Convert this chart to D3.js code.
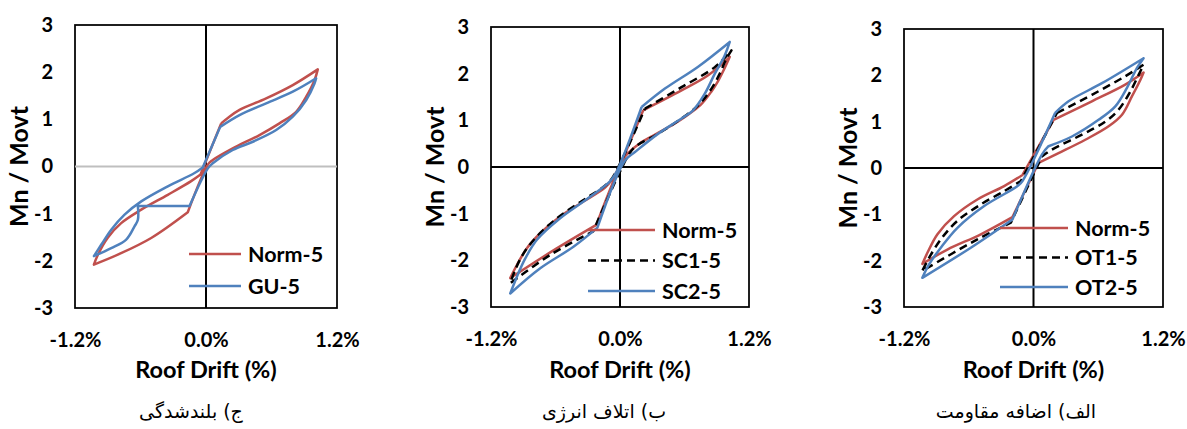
<!DOCTYPE html>
<html>
<head>
<meta charset="utf-8">
<script src="https://cdn.jsdelivr.net/npm/d3@7"></script>
<style>
  body { margin: 0; background: #fff; }
  svg text { font-family: Lato, "Open Sans", sans-serif; font-weight: 700; fill: #000; }
  svg text.caption { font-family: "DejaVu Sans", sans-serif; font-weight: 400; }
</style>
</head>
<body>
<svg id="chart" width="1187" height="429"></svg>
<script>
(function () {
    'use strict';

    var yTicks = [-3, -2, -1, 0, 1, 2, 3];
    var xTicks = [-1.2, 0, 1.2];
    var captions = ["ج) بلندشدگی", "ب) اتلاف انرژی", "الف) اضافه مقاومت"];

    // [roof drift %, Mn/Movt], traced round each loop
    var normGU = [[0.139, 0.915], [0.2, 1.03], [0.307, 1.2], [0.551, 1.445], [0.795, 1.727], [1.024, 2.06],
        [0.994, 1.83], [0.918, 1.48], [0.826, 1.16], [0.673, 0.915], [0.49, 0.667], [0.245, 0.385], [0.062, 0.138], [0.02, 0.05],
        [-0.167, -0.97], [-0.502, -1.515], [-0.808, -1.87], [-1.027, -2.08],
        [-0.99, -1.87], [-0.9, -1.51], [-0.777, -1.2], [-0.593, -0.915], [-0.35, -0.6], [-0.136, -0.31], [-0.05, -0.17], [0.139, 0.915]];
    var gu5 = [[0.13, 0.84], [0.307, 1.09], [0.551, 1.34], [0.795, 1.585], [1.009, 1.87],
        [0.994, 1.76], [0.918, 1.41], [0.795, 1.055], [0.643, 0.773], [0.429, 0.525], [0.245, 0.35], [0.062, 0.068], [0.017, -0.04],
        [-0.151, -0.84], [-0.624, -0.84], [-0.624, -1.13], [-0.655, -1.27], [-0.731, -1.55], [-0.868, -1.73], [-1.027, -1.9],
        [-0.96, -1.66], [-0.868, -1.34], [-0.746, -1.02], [-0.593, -0.74], [-0.35, -0.42], [-0.105, -0.138], [-0.03, -0.02], [0.13, 0.84]];

    var normSC = [[0.216, 1.215], [0.572, 1.64], [0.82, 1.965], [1.021, 2.36],
        [0.974, 2.12], [0.912, 1.84], [0.851, 1.62], [0.75, 1.33], [0.62, 1.1], [0.5, 0.92], [0.33, 0.7], [0.18, 0.5], [0.09, 0.33], [0.04, 0.2],
        [-0.22, -1.24], [-0.6, -1.76], [-1.021, -2.38],
        [-0.959, -2.1], [-0.866, -1.74], [-0.742, -1.42], [-0.557, -1.06], [-0.34, -0.74], [-0.139, -0.44], [-0.077, -0.28], [-0.03, -0.1], [0.216, 1.215]];
    var sc1 = [[0.232, 1.25], [0.572, 1.71], [0.882, 2.14], [1.037, 2.5],
        [0.99, 2.32], [0.928, 2.0], [0.851, 1.68], [0.727, 1.32], [0.572, 1.04], [0.356, 0.715], [0.139, 0.43], [0.077, 0.25],
        [-0.25, -1.38], [-0.65, -1.885], [-1.021, -2.49],
        [-0.974, -2.2], [-0.897, -1.85], [-0.773, -1.49], [-0.587, -1.1], [-0.34, -0.707], [-0.123, -0.37], [-0.062, -0.2], [0.232, 1.25]];
    var sc2 = [[0.201, 1.285], [0.418, 1.68], [0.727, 2.15], [1.021, 2.68],
        [0.974, 2.39], [0.882, 2.0], [0.789, 1.57], [0.68, 1.215], [0.572, 1.04], [0.356, 0.715], [0.139, 0.32], [0.046, 0.14],
        [-0.21, -1.3], [-0.433, -1.71], [-0.742, -2.17], [-1.021, -2.71],
        [-0.959, -2.35], [-0.881, -1.96], [-0.773, -1.56], [-0.557, -1.1], [-0.34, -0.74], [-0.093, -0.31], [-0.031, -0.1], [0.201, 1.285]];

    var normOT = [[0.186, 1.04], [0.541, 1.44], [0.85, 1.8], [1.02, 2.06],
        [0.99, 1.9], [0.913, 1.55], [0.82, 1.15], [0.696, 0.9], [0.48, 0.61], [0.232, 0.32], [0.046, 0.108],
        [-0.195, -1.06], [-0.488, -1.43], [-0.798, -1.76], [-1.03, -2.07],
        [-0.983, -1.83], [-0.89, -1.43], [-0.736, -1.04], [-0.52, -0.68], [-0.272, -0.39], [-0.102, -0.15], [0.186, 1.04]];
    var ot1 = [[0.217, 1.187], [0.541, 1.58], [0.85, 1.98], [1.02, 2.23],
        [0.974, 2.01], [0.897, 1.65], [0.789, 1.26], [0.665, 1.0], [0.449, 0.72], [0.17, 0.395], [0.078, 0.25],
        [-0.21, -1.18], [-0.52, -1.54], [-1.03, -2.22],
        [-0.968, -1.94], [-0.859, -1.54], [-0.705, -1.14], [-0.488, -0.785], [-0.272, -0.5], [-0.117, -0.28], [0.217, 1.187]];
    var ot2 = [[0.201, 1.19], [0.325, 1.44], [0.634, 1.83], [1.02, 2.37],
        [0.959, 2.16], [0.866, 1.73], [0.758, 1.33], [0.603, 1.04], [0.356, 0.68], [0.139, 0.47], [0.078, 0.29],
        [-0.195, -1.11], [-0.581, -1.72], [-1.03, -2.37],
        [-0.968, -2.08], [-0.859, -1.72], [-0.705, -1.29], [-0.457, -0.82], [-0.148, -0.39], [-0.102, -0.28], [0.201, 1.19]];

    var red = "#c0504d", blue = "#4f81bd";

    var panels = [
        { left: 75, right: 337, top: 25, bottom: 308, hColor: "#bfbfbf", caption: captions[0], capX: 191,
          leg: { x1: 189, x2: 241, y0: 254, dy: 32 },
          series: [{ name: "Norm-5", data: normGU, color: red }, { name: "GU-5", data: gu5, color: blue }] },
        { left: 491, right: 749, top: 27, bottom: 307, hColor: "#000", caption: captions[1], capX: 604,
          leg: { x1: 588, x2: 655, y0: 230, dy: 30.5 },
          series: [{ name: "Norm-5", data: normSC, color: red }, { name: "SC1-5", data: sc1, color: "#000", dash: "8,5" },
                   { name: "SC2-5", data: sc2, color: blue }] },
        { left: 904, right: 1163, top: 29, bottom: 307, hColor: "#000", caption: captions[2], capX: 1016,
          leg: { x1: 1000, x2: 1068, y0: 228, dy: 29.5 },
          series: [{ name: "Norm-5", data: normOT, color: red }, { name: "OT1-5", data: ot1, color: "#000", dash: "8,5" },
                   { name: "OT2-5", data: ot2, color: blue }] }
    ];

    var svg = d3.select("#chart");

    // repeat sharp corners so the smooth curve keeps them sharp
    function keepCorners(pts) {
        var out = [pts[0]];
        for (var i = 1; i < pts.length - 1; i++) {
            var a1 = Math.atan2(pts[i][1] - pts[i - 1][1], pts[i][0] - pts[i - 1][0]);
            var a2 = Math.atan2(pts[i + 1][1] - pts[i][1], pts[i + 1][0] - pts[i][0]);
            var turn = Math.abs(a2 - a1);
            if (turn > Math.PI) turn = 2 * Math.PI - turn;
            out.push(pts[i]);
            if (turn > 0.5) out.push(pts[i]);
        }
        out.push(pts[pts.length - 1]);
        return out;
    }

    panels.forEach(function (p) {
        var x = d3.scaleLinear().domain([-1.2, 1.2]).range([p.left, p.right]);
        var y = d3.scaleLinear().domain([-3, 3]).range([p.bottom, p.top]);
        var g = svg.append("g");

        g.append("rect")
            .attr("x", p.left).attr("y", p.top)
            .attr("width", p.right - p.left).attr("height", p.bottom - p.top)
            .style("fill", "none").style("stroke", "#000").style("stroke-width", "1.75px");

        g.append("line")
            .attr("x1", p.left).attr("x2", p.right).attr("y1", y(0)).attr("y2", y(0))
            .style("stroke", p.hColor).style("stroke-width", "2px");
        g.append("line")
            .attr("x1", x(0)).attr("x2", x(0)).attr("y1", p.top).attr("y2", p.bottom)
            .style("stroke", "#000").style("stroke-width", "2px");

        var line = d3.line().curve(d3.curveCatmullRom.alpha(0.5));

        g.selectAll("path.loop")
            .data(p.series)
            .enter()
            .append("path")
            .attr("class", "loop")
            .attr("d", function (s) {
                return line(keepCorners(s.data.map(function (d) { return [x(d[0]), y(d[1])]; })));
            })
            .style("fill", "none")
            .style("stroke", function (s) { return s.color; })
            .style("stroke-width", "2.5px")
            .style("stroke-linejoin", "round")
            .style("stroke-dasharray", function (s) { return s.dash || null; });

        var yAxis = g.append("g")
            .attr("transform", "translate(" + p.left + ",0)")
            .call(d3.axisLeft(y).tickValues(yTicks).tickSize(0).tickPadding(22)
                .tickFormat(function (d) { return String(d); }));
        var xAxis = g.append("g")
            .attr("transform", "translate(0," + p.bottom + ")")
            .call(d3.axisBottom(x).tickValues(xTicks).tickSize(0).tickPadding(25)
                .tickFormat(function (d) { return d.toFixed(1) + "%"; }));
        [yAxis, xAxis].forEach(function (a) {
            a.select(".domain").remove();
            a.selectAll("text").style("font-size", "20px");
            a.attr("font-family", null).attr("font-size", null);
        });

        g.append("text")
            .attr("transform", "translate(" + (p.left - 56) + "," + ((p.top + p.bottom) / 2) + ") rotate(-90)")
            .attr("text-anchor", "middle")
            .attr("dy", "0.35em")
            .style("font-size", "25px")
            .text("Mn / Movt");

        g.append("text")
            .attr("x", x(0)).attr("y", 378)
            .attr("text-anchor", "middle")
            .style("font-size", "23.5px")
            .text("Roof Drift (%)");

        var leg = g.selectAll("g.leg")
            .data(p.series)
            .enter()
            .append("g")
            .attr("class", "leg")
            .attr("transform", function (s, i) { return "translate(0," + (p.leg.y0 + i * p.leg.dy) + ")"; });
        leg.append("line")
            .attr("x1", p.leg.x1).attr("x2", p.leg.x2)
            .style("stroke", function (s) { return s.color; })
            .style("stroke-width", "2.5px")
            .style("stroke-dasharray", function (s) { return s.dash || null; });
        leg.append("text")
            .attr("x", p.leg.x2 + 7)
            .attr("dy", "0.35em")
            .style("font-size", "21.5px")
            .text(function (s) { return s.name; });

        g.append("text")
            .attr("class", "caption")
            .attr("x", p.capX).attr("y", 418)
            .attr("text-anchor", "middle")
            .style("font-size", "19px")
            .text(p.caption);
    });
}());
</script>
</body>
</html>
